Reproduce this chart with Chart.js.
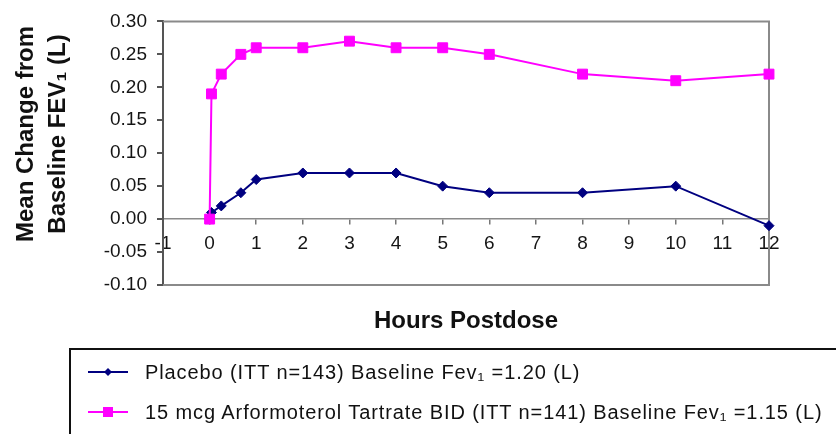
<!DOCTYPE html>
<html>
<head>
<meta charset="utf-8">
<script src="https://cdn.jsdelivr.net/npm/chart.js@4.4.0/dist/chart.umd.min.js"></script>
<style>
  html, body { margin: 0; padding: 0; background: #fff; overflow: hidden; }
  #wrap { position: relative; width: 836px; height: 434px; }
  #legend {
    position: absolute; left: 69px; top: 348px; width: 800px; height: 120px;
    border: 2px solid #111; box-sizing: border-box;
    font-family: "Liberation Sans", Arial, sans-serif; font-size: 20px; color: #111;
    letter-spacing: 0.9px;
  }
  .item { position: absolute; left: 17px; height: 24px; display: flex; align-items: center; white-space: nowrap; }
  .item canvas { margin-right: 17px; }
</style>
</head>
<body>
<div id="wrap">
  <canvas id="fevChart" width="836" height="434"></canvas>
  <div id="legend"></div>
</div>
<script>
// hours postdose and mean change from baseline FEV1 (L)
const hours = [0, 0.04, 0.25, 0.67, 1, 2, 3, 4, 5, 6, 8, 10, 12];
const placebo = [0, 0.01, 0.02, 0.04, 0.06, 0.07, 0.07, 0.07, 0.05, 0.04, 0.04, 0.05, -0.01];
const arformoterol = [0, 0.19, 0.22, 0.25, 0.26, 0.26, 0.27, 0.26, 0.26, 0.25, 0.22, 0.21, 0.22];

const xTicks = [-1, 0, 1, 2, 3, 4, 5, 6, 7, 8, 9, 10, 11, 12];
const yTicks = [-0.10, -0.05, 0, 0.05, 0.10, 0.15, 0.20, 0.25, 0.30];
const yTickLabels = ['-0.10', '-0.05', '0.00', '0.05', '0.10', '0.15', '0.20', '0.25', '0.30'];

const seriesLabels = [
  'Placebo (ITT n=143) Baseline Fev\u2081 =1.20 (L)',
  '15 mcg Arformoterol Tartrate BID (ITT n=141) Baseline Fev\u2081 =1.15 (L)'
];

const FONT = '"Liberation Sans", Arial, sans-serif';

const toPoints = (vals) => vals.map((v, i) => ({ x: hours[i], y: v }));

// frame round the plot + axis titles
const framePlugin = {
  id: 'frame',
  beforeDatasetsDraw(chart) {
    const { ctx, chartArea: a } = chart;
    ctx.save();
    ctx.strokeStyle = '#8a8a8a';
    ctx.lineWidth = 2;
    ctx.beginPath();
    ctx.moveTo(a.left, a.top);
    ctx.lineTo(a.right, a.top);
    ctx.lineTo(a.right, a.bottom);
    ctx.lineTo(a.left, a.bottom);
    ctx.stroke();
    ctx.restore();
  },
  afterDraw(chart) {
    const { ctx, chartArea: a } = chart;
    ctx.save();
    ctx.fillStyle = '#111';
    ctx.font = 'bold 24px ' + FONT;
    ctx.textAlign = 'center';
    ctx.textBaseline = 'alphabetic';
    ctx.fillText('Hours Postdose', (a.left + a.right) / 2, 328);

    ctx.translate(0, 134);
    ctx.rotate(-Math.PI / 2);
    ctx.fillText('Mean Change from', 0, 33);
    ctx.fillText('Baseline FEV\u2081 (L)', 0, 65);
    ctx.restore();
  }
};

const ctx = document.getElementById('fevChart').getContext('2d');
const chart = new Chart(ctx, {
  type: 'line',
  data: {
    datasets: [
      {
        label: seriesLabels[0],
        data: toPoints(placebo),
        borderColor: '#000080',
        backgroundColor: '#000080',
        borderWidth: 2,
        pointStyle: 'rectRot',
        pointRadius: 5,
        pointBorderWidth: 1,
        clip: false,
        order: 1
      },
      {
        label: seriesLabels[1],
        data: toPoints(arformoterol),
        borderColor: '#ff00ff',
        backgroundColor: '#ff00ff',
        borderWidth: 2,
        pointStyle: 'rect',
        pointRadius: 7,
        pointBorderWidth: 1,
        clip: false,
        order: 0
      }
    ]
  },
  options: {
    responsive: false,
    animation: false,
    layout: { padding: { left: 0, top: 20, right: 67, bottom: 149 } },
    plugins: {
      legend: { display: false },
      tooltip: { enabled: false }
    },
    scales: {
      x: {
        type: 'linear',
        min: -1,
        max: 12,
        position: { y: 0 },
        afterBuildTicks: (s) => { s.ticks = xTicks.map(v => ({ value: v })); },
        grid: { drawOnChartArea: false, drawTicks: true, tickLength: 5, color: '#777', lineWidth: 1.5 },
        border: { display: true, color: '#8a8a8a', width: 1.5 },
        ticks: { font: { family: FONT, size: 19 }, color: '#151515', padding: 8, maxRotation: 0, autoSkip: false }
      },
      y: {
        min: -0.1,
        max: 0.3,
        afterBuildTicks: (s) => { s.ticks = yTicks.map(v => ({ value: v })); },
        afterFit: (s) => { s.width = 163; },
        grid: { drawOnChartArea: false, drawTicks: true, tickLength: 6, color: '#555', lineWidth: 2 },
        border: { display: true, color: '#555', width: 2 },
        ticks: {
          font: { family: FONT, size: 19 }, color: '#151515', padding: 10,
          callback: (v, i) => yTickLabels[i]
        }
      }
    }
  },
  plugins: [framePlugin]
});

// legend as html, built from the datasets
const legend = document.getElementById('legend');
chart.data.datasets.forEach((ds, i) => {
  const item = document.createElement('div');
  item.className = 'item';
  item.style.top = (10 + i * 40) + 'px';
  const c = document.createElement('canvas');
  c.width = 40; c.height = 16;
  const g = c.getContext('2d');
  g.strokeStyle = ds.borderColor;
  g.fillStyle = ds.borderColor;
  g.lineWidth = 2;
  g.beginPath(); g.moveTo(0, 8); g.lineTo(40, 8); g.stroke();
  if (ds.pointStyle === 'rect') {
    g.fillRect(15, 3, 10, 10);
  } else {
    g.beginPath(); g.moveTo(20, 4); g.lineTo(24, 8); g.lineTo(20, 12); g.lineTo(16, 8); g.closePath(); g.fill();
  }
  item.appendChild(c);
  const span = document.createElement('span');
  span.textContent = ds.label;
  item.appendChild(span);
  legend.appendChild(item);
});
</script>
</body>
</html>
